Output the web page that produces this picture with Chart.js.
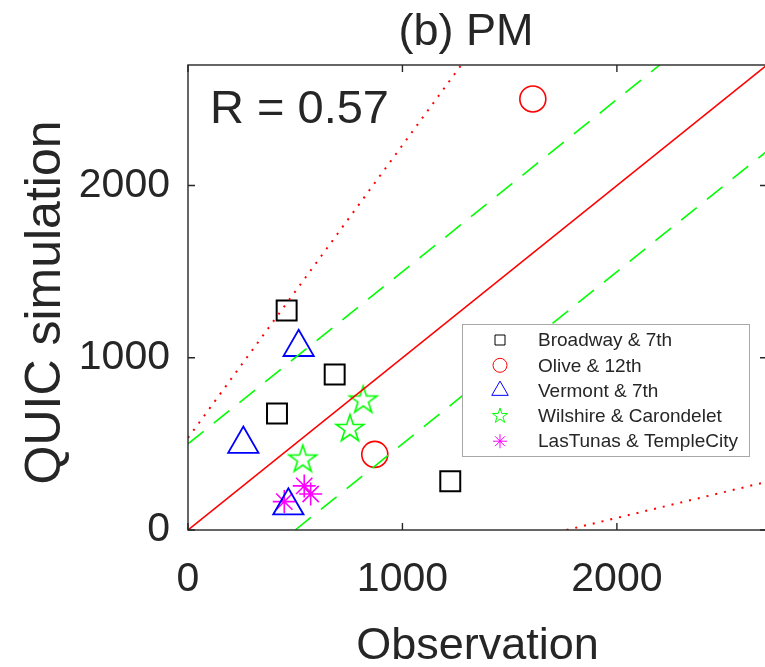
<!DOCTYPE html>
<html>
<head>
<meta charset="utf-8">
<script src="https://cdn.jsdelivr.net/npm/chart.js@4.4.1/dist/chart.umd.min.js"></script>
<style>
  html, body { margin: 0; padding: 0; background: #fff; overflow: hidden; }
  #wrap { width: 765px; height: 667px; overflow: hidden; }
</style>
</head>
<body>
<div id="wrap"><canvas id="chart" width="775" height="667"></canvas></div>
<script>
// axis range and ticks
const axisMax = 2700;
const xTicks = [0, 1000, 2000];
const yTicks = [0, 1000, 2000];

const titleText = "(b) PM";
const xLabel = "Observation";
const yLabel = "QUIC simulation";
const rText = "R = 0.57";

// intersections
const sites = ["Broadway & 7th", "Olive & 12th", "Vermont & 7th", "Wilshire & Carondelet", "LasTunas & TempleCity"];

// observation (x) / simulation (y) per site
const broadwayObs = [460, 684, 415, 1223];
const broadwaySim = [1275, 903, 676, 283];
const oliveObs = [1608, 871];
const oliveSim = [2503, 439];
const vermontObs = [516, 258, 468];
const vermontSim = [1061, 499, 141];
const wilshireObs = [817, 755, 535];
const wilshireSim = [752, 587, 409];
const lasTunasObs = [449, 542, 572];
const lasTunasSim = [165, 256, 209];

// reference lines (end points in data units)
const oneToOne = [[0, 0], [2700, 2700]];
const bandUpper = [[0, 500], [2200, 2700]];
const bandLower = [[500, 0], [2700, 2200]];
const boundUpper = [[0, 535], [1274, 2700]];
const boundLower = [[1765, 0], [2700, 280]];

const FONT = "'Liberation Sans', Arial, Helvetica, sans-serif";
const TEXT = "#262626";

function pts(xs, ys) {
    return xs.map((x, i) => ({ x: x, y: ys[i] }));
}
function seg(p) {
    return p.map(v => ({ x: v[0], y: v[1] }));
}

// five pointed star as an image (Chart.js has no pentagram)
function makeStar(R, color, lw) {
    let s = Math.ceil(2 * R + lw * 2 + 4);
    if (s % 2) s++;
    const c = document.createElement("canvas");
    c.width = s; c.height = s;
    const g = c.getContext("2d");
    g.translate(s / 2, s / 2);
    g.beginPath();
    for (let i = 0; i < 10; i++) {
        let r = i % 2 === 0 ? R : R * 0.382;
        let a = -Math.PI / 2 + i * Math.PI / 5;
        g.lineTo(r * Math.cos(a), r * Math.sin(a));
    }
    g.closePath();
    g.strokeStyle = color;
    g.lineWidth = lw;
    g.stroke();
    return c;
}

const bigStar = makeStar(14.5, "#00ff00", 1.6);
const smallStar = makeStar(8, "#00ff00", 1);

function refLine(data, color, dash, width) {
    return {
        data: seg(data), showLine: true, borderColor: color, borderWidth: width,
        borderDash: dash, pointRadius: 0, fill: false, inLegend: false
    };
}
function marks(label, xs, ys, style, radius, color, width, legendStyle, legendRadius) {
    return {
        label: label, data: pts(xs, ys), showLine: false, pointStyle: style,
        pointRadius: radius, borderColor: color, backgroundColor: "rgba(0,0,0,0)",
        borderWidth: width, inLegend: true, legendStyle: legendStyle || style, legendRadius: legendRadius
    };
}

// small marker painter for the legend box
function drawMarker(ctx, style, r, x, y, color) {
    ctx.save();
    ctx.strokeStyle = color;
    ctx.lineWidth = 1;
    ctx.beginPath();
    if (style === "rect") {
        ctx.rect(x - r, y - r, 2 * r, 2 * r);
    } else if (style === "circle") {
        ctx.arc(x, y, r, 0, Math.PI * 2);
    } else if (style === "triangle") {
        ctx.moveTo(x, y - r);
        ctx.lineTo(x + r * Math.sin(2 * Math.PI / 3), y + r / 2);
        ctx.lineTo(x - r * Math.sin(2 * Math.PI / 3), y + r / 2);
        ctx.closePath();
    } else if (style === "star") {
        for (let k = 0; k < 4; k++) {
            let a = k * Math.PI / 4;
            ctx.moveTo(x - r * Math.cos(a), y - r * Math.sin(a));
            ctx.lineTo(x + r * Math.cos(a), y + r * Math.sin(a));
        }
    } else {
        ctx.drawImage(style, x - style.width / 2, y - style.height / 2);
    }
    ctx.stroke();
    ctx.restore();
}

const decor = {
    id: "decor",
    afterDatasetsDraw(chart) {
        const ctx = chart.ctx;
        const a = chart.chartArea;
        const xs = chart.scales.x, ys = chart.scales.y;
        ctx.save();

        // box + inward ticks
        ctx.strokeStyle = TEXT;
        ctx.lineWidth = 1.4;
        ctx.strokeRect(a.left, a.top, a.right - a.left, a.bottom - a.top);
        ctx.beginPath();
        xTicks.forEach(v => {
            let px = xs.getPixelForValue(v);
            ctx.moveTo(px, a.bottom); ctx.lineTo(px, a.bottom - 7);
            ctx.moveTo(px, a.top); ctx.lineTo(px, a.top + 7);
        });
        yTicks.forEach(v => {
            let py = ys.getPixelForValue(v);
            ctx.moveTo(a.left, py); ctx.lineTo(a.left + 7, py);
            ctx.moveTo(a.right, py); ctx.lineTo(a.right - 7, py);
        });
        ctx.stroke();

        // R value
        ctx.fillStyle = TEXT;
        ctx.font = "47px " + FONT;
        ctx.textAlign = "left";
        ctx.textBaseline = "alphabetic";
        ctx.fillText(rText, a.left + 22, a.top + 58);

        // title
        ctx.font = "45px " + FONT;
        ctx.textAlign = "center";
        ctx.fillText(titleText, 466, 45);

        // axis titles
        ctx.font = "45px " + FONT;
        ctx.fillText(xLabel, (a.left + a.right) / 2, 659);
        ctx.save();
        ctx.font = "50px " + FONT;
        ctx.translate(60, (a.top + a.bottom) / 2 + 5);
        ctx.rotate(-Math.PI / 2);
        ctx.fillText(yLabel, 0, 0);
        ctx.restore();

        // legend
        const lx = a.left + 274, ly = a.top + 259, lw = 287, lh = 132;
        ctx.fillStyle = "#fff";
        ctx.fillRect(lx, ly, lw, lh);
        ctx.strokeStyle = "#a8a8a8";
        ctx.lineWidth = 1;
        ctx.strokeRect(lx + 0.5, ly + 0.5, lw, lh);
        ctx.font = "19px " + FONT;
        ctx.textAlign = "left";
        ctx.textBaseline = "middle";
        let row = 0;
        chart.data.datasets.forEach(ds => {
            if (!ds.inLegend) return;
            let y = ly + 16 + row * 25.3;
            drawMarker(ctx, ds.legendStyle, ds.legendRadius, lx + 38, y, ds.borderColor);
            ctx.fillStyle = TEXT;
            ctx.fillText(ds.label, lx + 76, y + 1);
            row++;
        });
        ctx.restore();
    }
};

new Chart(document.getElementById("chart"), {
    type: "scatter",
    data: {
        datasets: [
            refLine(boundUpper, "#ff0000", [2, 7], 2),
            refLine(boundLower, "#ff0000", [2, 7], 2),
            refLine(bandUpper, "#00ff00", [20, 13], 1.6),
            refLine(bandLower, "#00ff00", [20, 13], 1.6),
            refLine(oneToOne, "#ff0000", [], 1.6),
            marks(sites[0], broadwayObs, broadwaySim, "rect", 14.1, "#000000", 2, "rect", 5),
            marks(sites[1], oliveObs, oliveSim, "circle", 13, "#ff0000", 1.6, "circle", 7),
            marks(sites[2], vermontObs, vermontSim, "triangle", 17.5, "#0000ff", 1.8, "triangle", 9.5),
            marks(sites[3], wilshireObs, wilshireSim, bigStar, 14.5, "#00ff00", 1.6, smallStar, 8),
            marks(sites[4], lasTunasObs, lasTunasSim, "star", 11.5, "#ff00ff", 1.6, "star", 7)
        ]
    },
    options: {
        responsive: false,
        animation: false,
        events: [],
        layout: { autoPadding: false, padding: { top: 65, right: 8, bottom: 0, left: 0 } },
        plugins: { legend: { display: false }, tooltip: { enabled: false }, title: { display: false } },
        scales: {
            x: {
                type: "linear", min: 0, max: axisMax,
                afterBuildTicks: s => { s.ticks = xTicks.map(v => ({ value: v })); },
                afterFit: s => { s.height = 137; s.paddingLeft = 0; s.paddingRight = 0; },
                grid: { display: false, drawTicks: false },
                border: { display: false },
                ticks: {
                    font: { family: FONT, size: 41 }, color: TEXT, padding: 25, maxRotation: 0, autoSkip: false,
                    callback: v => String(v)
                }
            },
            y: {
                type: "linear", min: 0, max: axisMax,
                afterBuildTicks: s => { s.ticks = yTicks.map(v => ({ value: v })); },
                afterFit: s => { s.width = 188; s.paddingTop = 0; s.paddingBottom = 0; },
                grid: { display: false, drawTicks: false },
                border: { display: false },
                ticks: {
                    font: { family: FONT, size: 41 }, color: TEXT, padding: 18, autoSkip: false,
                    callback: v => String(v)
                }
            }
        }
    },
    plugins: [decor]
});
</script>
</body>
</html>
